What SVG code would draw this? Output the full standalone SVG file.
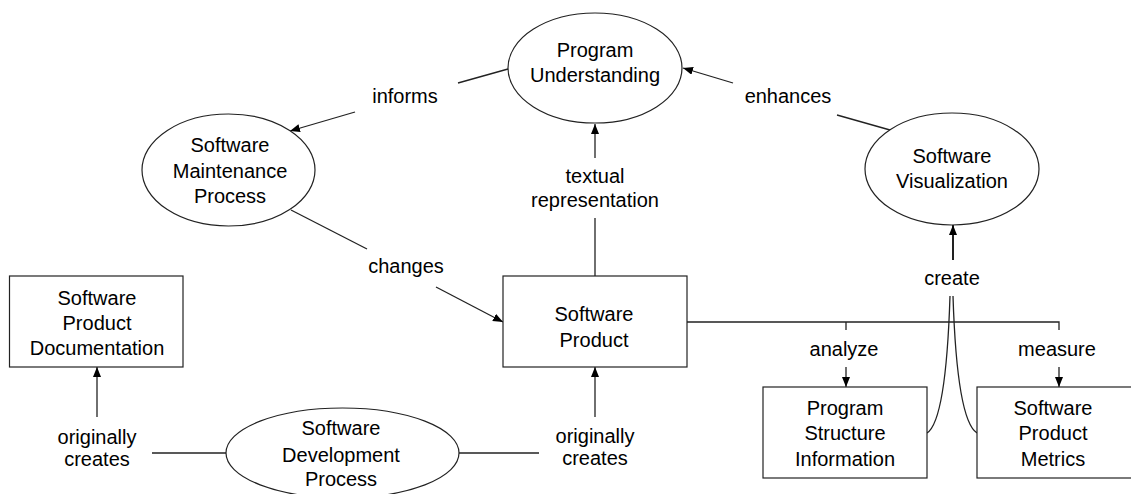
<svg xmlns="http://www.w3.org/2000/svg" width="1131" height="494" viewBox="0 0 1131 494">
<style>
.n{fill:#fff;stroke:#222;stroke-width:1.2}
.t{font-family:"Liberation Sans",Arial,sans-serif;font-size:20px;fill:#000;text-anchor:middle}
.c{fill:none;stroke:#222;stroke-width:1.3}
.a{marker-end:url(#ah)}
</style>
<defs>
<marker id="ah" markerUnits="userSpaceOnUse" markerWidth="12" markerHeight="10" refX="10" refY="4" orient="auto">
<path d="M0,0 L10,4 L0,8 z" fill="#000"/>
</marker>
</defs>
<rect width="1131" height="494" fill="#fff"/>
<g id="connectors">
<line class="c" x1="508" y1="69" x2="458" y2="83"/>
<line class="c a" x1="355" y1="112" x2="290" y2="131"/>
<line class="c" x1="890" y1="130" x2="837" y2="115"/>
<line class="c a" x1="733" y1="83" x2="683" y2="68"/>
<line class="c" x1="595" y1="276" x2="595" y2="218"/>
<line class="c a" x1="595" y1="158" x2="595" y2="124"/>
<line class="c" x1="291" y1="210" x2="367" y2="249"/>
<line class="c a" x1="436" y1="287" x2="503" y2="322"/>
<line class="c" x1="226" y1="453" x2="152" y2="453"/>
<line class="c a" x1="97" y1="417" x2="97" y2="367"/>
<line class="c" x1="459" y1="453" x2="539" y2="453"/>
<line class="c a" x1="595" y1="417" x2="595" y2="367"/>
<polyline class="c" points="687,322 1059,322 1059,330"/>
<line class="c" x1="846" y1="322" x2="846" y2="330"/>
<line class="c a" x1="846" y1="367" x2="846" y2="387"/>
<line class="c a" x1="1059" y1="367" x2="1059" y2="387"/>
<path class="c" d="M927,433 C938,426 947,390 950,296"/>
<path class="c" d="M977,433 C966,426 956,390 953,296"/>
<line class="c a" x1="953" y1="260" x2="953" y2="225" style="stroke-width:2"/>
<text class="t" x="405" y="103">informs</text>
<text class="t" x="788" y="103">enhances</text>
<text class="t" x="595" y="183">textual</text>
<text class="t" x="595" y="207">representation</text>
<text class="t" x="406" y="273">changes</text>
<text class="t" x="97" y="444">originally</text>
<text class="t" x="97" y="466">creates</text>
<text class="t" x="595" y="443">originally</text>
<text class="t" x="595" y="465">creates</text>
<text class="t" x="844" y="356">analyze</text>
<text class="t" x="1057" y="356">measure</text>
<text class="t" x="952" y="285">create</text>
</g>
<g id="program-understanding">
<ellipse class="n" cx="595" cy="68" rx="87" ry="55"/>
<text class="t" x="595" y="57">Program</text>
<text class="t" x="595" y="82">Understanding</text>
</g>
<g id="software-maintenance-process">
<ellipse class="n" cx="228.5" cy="170" rx="86.5" ry="56"/>
<text class="t" x="230" y="152">Software</text>
<text class="t" x="230" y="178">Maintenance</text>
<text class="t" x="230" y="203">Process</text>
</g>
<g id="software-visualization">
<ellipse class="n" cx="952" cy="169" rx="87" ry="56"/>
<text class="t" x="952" y="163">Software</text>
<text class="t" x="952" y="188">Visualization</text>
</g>
<g id="software-product">
<rect class="n" x="503" y="276" width="184" height="91"/>
<text class="t" x="594" y="321">Software</text>
<text class="t" x="594" y="347">Product</text>
</g>
<g id="software-product-documentation">
<rect class="n" x="9.5" y="276" width="173.5" height="91"/>
<text class="t" x="97" y="305">Software</text>
<text class="t" x="97" y="330">Product</text>
<text class="t" x="97" y="355">Documentation</text>
</g>
<g id="software-development-process">
<ellipse class="n" cx="342.5" cy="453" rx="116.5" ry="45"/>
<text class="t" x="341" y="435">Software</text>
<text class="t" x="341" y="462">Development</text>
<text class="t" x="341" y="486">Process</text>
</g>
<g id="program-structure-information">
<rect class="n" x="763" y="387" width="164" height="91"/>
<text class="t" x="845" y="415">Program</text>
<text class="t" x="845" y="440">Structure</text>
<text class="t" x="845" y="466">Information</text>
</g>
<g id="software-product-metrics">
<rect class="n" x="977" y="387" width="160" height="91"/>
<text class="t" x="1053" y="415">Software</text>
<text class="t" x="1053" y="440">Product</text>
<text class="t" x="1053" y="466">Metrics</text>
</g>
</svg>
